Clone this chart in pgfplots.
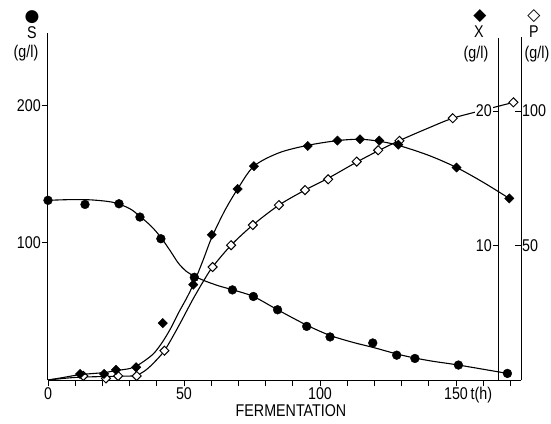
\documentclass[border=0pt]{standalone}
\usepackage{fontspec}
\setmainfont[FakeStretch=0.84]{Liberation Sans}
\newfontfamily\sym{DejaVu Sans}
\usepackage{pgfplots}
\pgfplotsset{compat=1.18}

\pgfplotstableread{
t S
0 131
13.6 128
26.1 128.5
33.8 118.8
41.5 103
53.8 74.9
67.8 65.7
75.5 60.9
84.4 51.2
95.1 39.1
103.7 31.4
119.4 27
128.2 18.1
134.9 15.7
150.9 10.9
168.9 4.8
}\Sdata
\pgfplotstableread{
t S
0 131
8 131.5
16 131.3
24 129.5
30 125
34 119
38 112
41.5 104
45 94
48 85
51 79
54 75.5
58 72
63 68.5
68 65.7
75.5 60.9
84.4 51.2
95.1 40
103.7 32.5
112 27.5
120 23.5
128.2 19
134.9 16
142 13.5
150.9 10.9
168.9 4.8
}\Scurve
\pgfplotstableread{
t X
11.8 0.45
20.6 0.45
25 0.75
32.4 0.95
42.2 4.23
53.4 7.09
60.2 10.8
69.7 14.2
75.7 15.9
95.5 17.4
106.4 17.8
114.7 17.9
121.8 17.8
128.8 17.5
150.2 15.8
169.6 13.5
}\Xdata
\pgfplotstableread{
t X
0 0
6 0.2
11.8 0.4
20.6 0.55
25 0.7
30 0.85
33 1.1
36 1.5
39 2.0
42 2.8
45 3.8
48 5.0
51 6.1
53.4 7.1
57 8.9
60.2 10.6
65 12.6
69.7 14.2
75.7 15.9
85 16.9
95.5 17.45
106.4 17.8
114.7 17.9
121.8 17.75
128.8 17.45
140 16.7
150.2 15.8
160 14.7
169.6 13.5
}\Xcurve
\pgfplotstableread{
t P
13 1.5
21.3 0.6
25.8 1.5
32.6 1.5
42.8 10.9
60.5 42
67.3 50.1
75.3 57.6
84.9 65
94.5 70.6
103 74.6
113.5 81.2
121.4 85.4
129.2 88.9
148.8 97.3
171.1 103.2
}\Pdata
\pgfplotstableread{
t P
0 0
8 0.8
13 1.1
21.3 1.3
26 1.4
32 1.6
35 3
38 5.5
42.8 10.9
48 20
53 29.5
57 36.5
60.5 42
67.3 50.1
75.3 57.6
84.9 65
94.5 70.6
103 75
113.5 81
121.4 85.2
129.2 89
139 93.3
148.8 97.3
160 100.3
171.1 103.2
}\Pcurve

\begin{document}
\fontsize{17bp}{20bp}\selectfont
\begin{tikzpicture}
\useasboundingbox (0,0) rectangle (551bp,424bp);
\pgfplotsset{
  common/.style={scale only axis, clip=false, at={(48bp,44bp)}, anchor=south west,
    every tick/.style={black, line width=0.8bp},
    major tick length=6bp, minor tick length=6bp,
    /pgf/number format/assume math mode=true,
    ticklabel style={inner sep=1bp},
  },
  nolinearrows/.style={
    axis line style={-, line width=1bp, black},
    every outer x axis line/.append style={-},
    every outer y axis line/.append style={-},
    every inner x axis line/.append style={-},
    every inner y axis line/.append style={-},
  },
  curve/.style={black, line width=1.1bp, smooth, mark=none},
  smark/.style={only marks, mark=*, mark size=4.4bp, mark options={fill=black, draw=black}},
  xmark/.style={only marks, mark=square*, mark size=3.3bp, mark options={rotate=45, fill=black, draw=black}},
  pmark/.style={only marks, mark=square*, mark size=3.2bp, mark options={rotate=45, fill=white, draw=black, line width=1bp}},
}
% S axis
\begin{axis}[common,
  width=473bp, height=347bp,
  xmin=0, xmax=173.9, ymin=0, ymax=253,
  axis x line=bottom, axis y line=left,
  nolinearrows,
  tick align=outside,
  xtick={0,50,100,150}, xticklabels={0,50,100,{150\rlap{\,t(h)}}},
  minor xtick={10,20,30,40,60,70,80,90,110,120,130,140,160,170},
  ytick={100,200},
  xticklabel style={inner sep=1bp},
]
\addplot[curve] table[x=t,y=S] {\Scurve};
\addplot[smark] table[x=t,y=S] {\Sdata};
\end{axis}
% P axis
\begin{axis}[common,
  width=473bp, height=343bp,
  xmin=0, xmax=173.9, ymin=0, ymax=127.5,
  axis x line=none, axis y line=right,
  nolinearrows,
  tick align=inside,
  ytick={50,100},
  yticklabel style={anchor=west, inner sep=1bp},
]
\addplot[curve] table[x=t,y=P] {\Pcurve};
\addplot[pmark] table[x=t,y=P] {\Pdata};
\end{axis}
% X axis
\begin{axis}[common,
  width=450bp, height=342bp,
  xmin=0, xmax=165.44, ymin=0, ymax=25.43,
  axis x line=none, axis y line=right,
  nolinearrows,
  tick align=inside,
  ytick={10,20},
  yticklabel style={anchor=east, xshift=-5bp, inner sep=1bp, fill=white},
]
\addplot[curve] table[x=t,y=X] {\Xcurve};
\addplot[xmark] table[x=t,y=X] {\Xdata};
\end{axis}
% headers
\node at (32bp,407bp) {\sym ●};
\node[anchor=base] at (32bp,385bp) {S};
\node[anchor=base] at (26bp,366bp) {(g/l)};
\node at (480bp,408bp) {\sym ◆};
\node[anchor=base] at (479bp,386bp) {X};
\node[anchor=base] at (476bp,365bp) {(g/l)};
\node at (534bp,408bp) {\sym ◇};
\node[anchor=base] at (534bp,386bp) {P};
\node[anchor=base] at (537bp,365bp) {(g/l)};
\node[anchor=base] at (291bp,8bp) {FERMENTATION};
\end{tikzpicture}
\end{document}
